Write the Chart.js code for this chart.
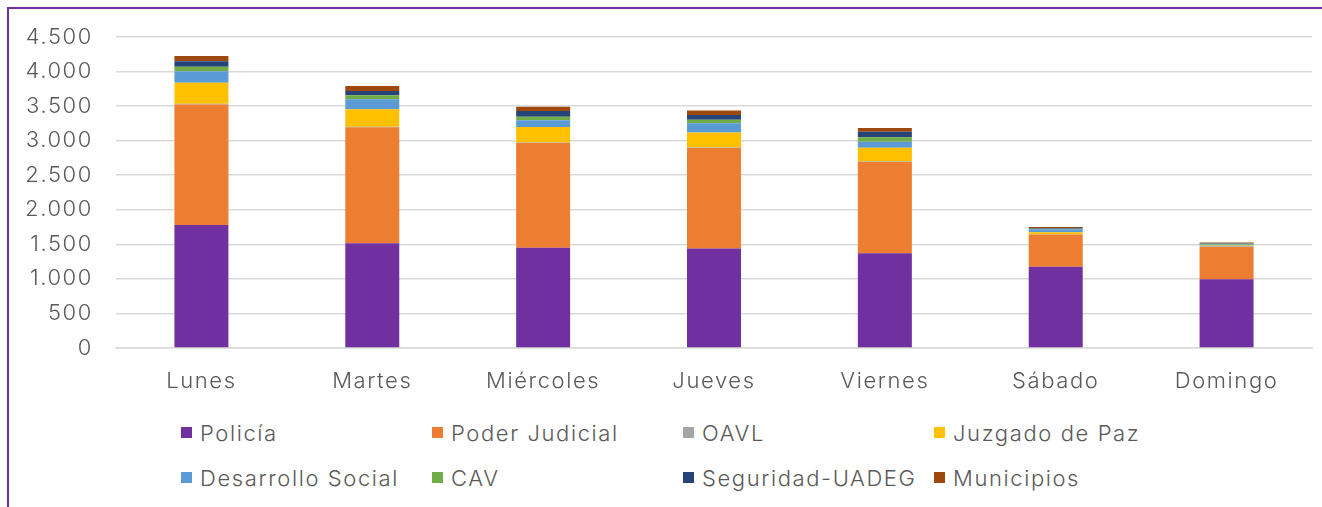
<!DOCTYPE html>
<html>
<head>
<meta charset="utf-8">
<script src="https://cdn.jsdelivr.net/npm/chart.js@4"></script>
<style>
  body { margin: 0; background: #fff; width: 1322px; height: 507px; overflow: hidden; position: relative; font-family: Inter, "Open Sans", sans-serif; }
  #frame { position: absolute; left: 7px; top: 7px; width: 1340px; height: 540px; border: 2px solid #7030A0; box-sizing: border-box; }
  #wrap { position: absolute; left: 0; top: 0; width: 1322px; height: 400px; }
  #legend { position: absolute; left: 181px; top: 410px; display: grid; grid-template-columns: repeat(4, 251px); grid-auto-rows: 45px; }
  .item { display: flex; align-items: center; font-size: 22px; font-weight: 300; color: #595959; white-space: nowrap; letter-spacing: 1.6px; }
  .box { width: 11px; height: 11px; margin-right: 8px; flex: none; }
</style>
</head>
<body>
<div id="frame"></div>
<div id="wrap"><canvas id="chart"></canvas></div>
<div id="legend"></div>
<script>
// Datos
const dias = ['Lunes', 'Martes', 'Miércoles', 'Jueves', 'Viernes', 'Sábado', 'Domingo'];
const policia       = [1780, 1515, 1450, 1440, 1370, 1175, 995];
const poderJudicial = [1745, 1680, 1515, 1455, 1322, 468, 468];
const oavl          = [8, 8, 7, 7, 6, 4, 8];
const juzgado       = [305, 250, 225, 215, 200, 28, 12];
const desarrollo    = [165, 145, 97, 136, 87, 43, 14];
const cav           = [67, 58, 52, 48, 64, 8, 12];
const seguridad     = [78, 62, 83, 72, 81, 12, 6];
const municipios    = [77, 73, 62, 63, 54, 14, 12];
const yTicks = [0, 500, 1000, 1500, 2000, 2500, 3000, 3500, 4000, 4500];

const series = [
  { label: 'Policía', data: policia, color: '#7030A0' },
  { label: 'Poder Judicial', data: poderJudicial, color: '#ED7D31' },
  { label: 'OAVL', data: oavl, color: '#A5A5A5' },
  { label: 'Juzgado de Paz', data: juzgado, color: '#FFC000' },
  { label: 'Desarrollo Social', data: desarrollo, color: '#5B9BD5' },
  { label: 'CAV', data: cav, color: '#70AD47' },
  { label: 'Seguridad-UADEG', data: seguridad, color: '#264478' },
  { label: 'Municipios', data: municipios, color: '#9E480E' }
];

const fmt = v => String(v).replace(/\B(?=(\d{3})+(?!\d))/g, '.');
const font = { family: 'Inter, "Open Sans", sans-serif', size: 22, weight: 300 };

// espaciado de letras para acercarse a la tipografía ancha del original
const spacing = {
  id: 'spacing',
  beforeLayout: c => { c.ctx.letterSpacing = '1.6px'; },
  beforeDraw: c => { c.ctx.letterSpacing = '1.6px'; }
};

new Chart(document.getElementById('chart'), {
  type: 'bar',
  data: {
    labels: dias,
    datasets: series.map(s => ({
      label: s.label,
      data: s.data,
      backgroundColor: s.color,
      borderWidth: 0,
      barPercentage: 0.316,
      categoryPercentage: 1
    }))
  },
  options: {
    responsive: true,
    maintainAspectRatio: false,
    animation: false,
    layout: { padding: { top: 37, right: 10, bottom: 0, left: 0 } },
    plugins: { legend: { display: false }, tooltip: { enabled: false } },
    scales: {
      x: {
        stacked: true,
        grid: { display: false },
        border: { color: '#D9D9D9', width: 1.5 },
        ticks: { color: '#595959', font: font, padding: 12, maxRotation: 0 },
        afterFit: s => { s.height = 52; }
      },
      y: {
        stacked: true,
        min: 0,
        max: 4500,
        afterBuildTicks: s => { s.ticks = yTicks.map(v => ({ value: v })); },
        grid: { color: '#D9D9D9', lineWidth: 1.5, drawTicks: false },
        border: { display: false },
        ticks: { color: '#595959', font: font, padding: 23, callback: v => fmt(v) },
        afterFit: s => { s.width = 116; }
      }
    }
  },
  plugins: [spacing]
});

// Leyenda en cuadrícula
const legend = document.getElementById('legend');
series.forEach(s => {
  const it = document.createElement('div');
  it.className = 'item';
  it.innerHTML = '<span class="box" style="background:' + s.color + '"></span>' + s.label;
  legend.appendChild(it);
});
</script>
</body>
</html>
